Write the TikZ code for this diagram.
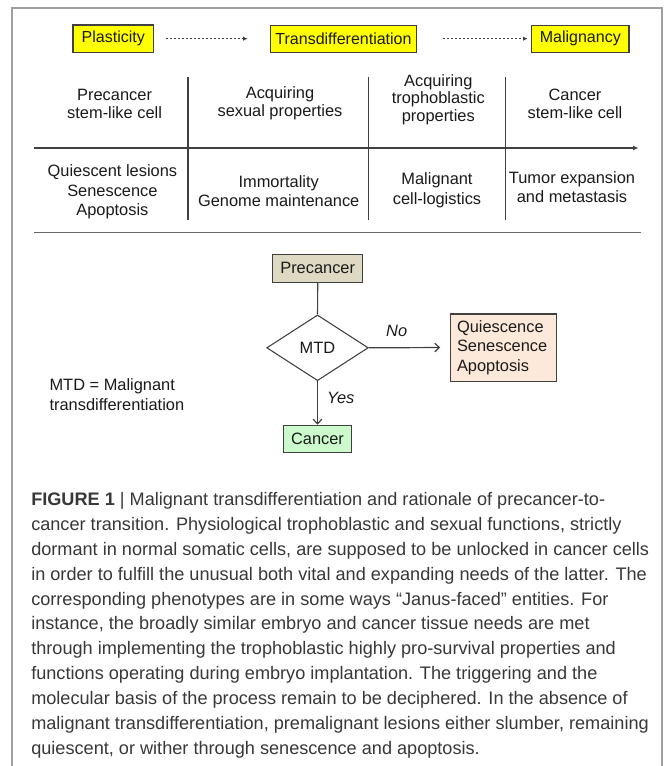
\documentclass[tikz,border=0pt]{standalone}
\usepackage{fontspec}
\setmainfont{Liberation Sans}
\usetikzlibrary{arrows.meta,shapes.geometric}
\definecolor{framegray}{HTML}{A0A0A0}
\definecolor{ink}{HTML}{1A1A1A}
\definecolor{edgegray}{HTML}{404040}
\definecolor{yfill}{HTML}{FFFF00}
\definecolor{tanfill}{HTML}{DDD9C3}
\definecolor{peachfill}{HTML}{FDE9D9}
\definecolor{mintfill}{HTML}{CCFACC}
\definecolor{captxt}{HTML}{383838}
\begin{document}
\begin{tikzpicture}[x=0.75pt,y=-0.75pt,
  lbl/.style={font=\fontsize{12.3pt}{13.3pt}\selectfont, text=ink, inner sep=0pt, align=center},
  lbllow/.style={lbl, font=\fontsize{12.3pt}{14.4pt}\selectfont},
  yellowbox/.style={draw=edgegray, line width=0.8pt, fill=yfill, inner sep=0pt, text=ink, font=\fontsize{12pt}{14pt}\selectfont},
  flowbox/.style={draw=edgegray, line width=0.8pt, inner sep=0pt, text=ink, font=\fontsize{12.3pt}{14pt}\selectfont},
  dotarrow/.style={draw=edgegray, line width=0.8pt, dash pattern=on 1.2pt off 1.8pt, -{Latex[length=3.5pt,width=3.2pt]}},
  axisarrow/.style={draw=edgegray, line width=0.9pt, -{Latex[length=4pt,width=3.6pt]}},
  divider/.style={draw=edgegray, line width=0.8pt},
  flowline/.style={draw=edgegray, line width=0.9pt},
  flowarrow/.style={flowline, -{Straight Barb[length=3.5pt,width=6.5pt]}},
  edgelabel/.style={font=\fontsize{12.3pt}{14pt}\selectfont\itshape, text=ink, inner sep=0pt},
  capline/.style={anchor=base west, inner sep=0pt, text=captxt, font=\fontsize{13.6pt}{18pt}\selectfont}
]
\useasboundingbox (0,0) rectangle (665,766);
\fill[white] (0,0) rectangle (665,766);
\draw[framegray, line width=1.5pt] (12,766) -- (12,8.5) -- (662,8.5) -- (662,766);

% top stage boxes
\node[yellowbox, minimum width=60.5pt, minimum height=20.5pt] (plast) at (113.3,38.7) {Plasticity};
\node[yellowbox, minimum width=109.7pt, minimum height=20.3pt] (trans) at (343.5,38.7) {Transdifferentiation};
\node[yellowbox, minimum width=73pt, minimum height=20.3pt] (malig) at (580.3,38.7) {Malignancy};
\draw[dotarrow, shorten <=9pt, shorten >=16.5pt] (plast) -- (trans);
\draw[dotarrow, shorten <=19.5pt, shorten >=2.5pt] (trans) -- (malig);

% table
\node[lbl] (t1) at (114.6,104) {Precancer\\stem-like cell};
\node[lbl] (t2) at (280,103) {Acquiring\\sexual properties};
\node[lbl] (t3) at (438.3,99.5) {Acquiring\\trophoblastic\\properties};
\node[lbl] (t4) at (575,104) {Cancer\\stem-like cell};
\node[lbllow] (b1) at (112.4,191.8) {Quiescent lesions\\Senescence\\Apoptosis};
\node[lbllow] (b2) at (278.7,191) {Immortality\\Genome maintenance};
\node[lbllow] (b3) at (437,190.3) {Malignant\\cell-logistics};
\node[lbllow] (b4) at (572,187) {Tumor expansion\\and metastasis};

\coordinate (axs) at (34,148);
\coordinate (axe) at (638.5,148);
\draw[axisarrow] (axs) -- (axe);
\coordinate (d1t) at (188,77);   \coordinate (d1b) at (188,220);
\coordinate (d2t) at (368.3,77); \coordinate (d2b) at (368.3,220);
\coordinate (d3t) at (505.7,77); \coordinate (d3b) at (505.7,220);
\draw[divider] (d1t) -- (d1b);
\draw[divider] (d2t) -- (d2b);
\draw[divider] (d3t) -- (d3b);

\coordinate (sepl) at (34,232.7);
\coordinate (sepr) at (640.5,232.7);
\draw[draw=edgegray!80, line width=1.1pt] (sepl) -- (sepr);

% flow chart
\node[flowbox, fill=tanfill, minimum width=67.5pt, minimum height=20.8pt] (pre) at (317.7,268.2) {Precancer};
\node[flowbox, diamond, minimum width=76.2pt, minimum height=49.3pt] (mtd) at (317.5,347.8) {MTD};
\node[flowbox, fill=peachfill, text width=70pt, inner xsep=4.7pt, minimum height=50.3pt, align=left,
      font=\fontsize{12.3pt}{14.8pt}\selectfont] (qui) at (503.7,347.5) {Quiescence\\Senescence\\Apoptosis};
\node[flowbox, fill=mintfill, minimum width=51.3pt, minimum height=20.3pt] (can) at (317.5,438.8) {Cancer};
\draw[flowline] (pre) -- (mtd);
\draw[flowarrow, shorten >=7.5pt] (mtd.east) -- (qui.west);
\draw[flowarrow] (mtd.south) -- (can.north);
\node[edgelabel] (nolab) at (396.7,331) {No};
\node[edgelabel] (yeslab) at (340.7,397.7) {Yes};
\node[lbl, align=left, anchor=west, font=\fontsize{12.3pt}{14.5pt}\selectfont] (def) at (49.3,394.7) {MTD = Malignant\\transdifferentiation};

% caption
\node[capline] (cap1) at (31,505.4) {\textbf{FIGURE 1} | Malignant transdifferentiation and rationale of precancer-to-};
\node[capline] (cap2) at (31,530.3) {cancer transition. Physiological trophoblastic and sexual functions, strictly};
\node[capline] (cap3) at (31,555.2) {dormant in normal somatic cells, are supposed to be unlocked in cancer cells};
\node[capline] (cap4) at (31,580.1) {in order to fulfill the unusual both vital and expanding needs of the latter. The};
\node[capline] (cap5) at (31,605.0) {corresponding phenotypes are in some ways “Janus-faced” entities. For};
\node[capline] (cap6) at (31,629.9) {instance, the broadly similar embryo and cancer tissue needs are met};
\node[capline] (cap7) at (31,654.8) {through implementing the trophoblastic highly pro-survival properties and};
\node[capline] (cap8) at (31,679.7) {functions operating during embryo implantation. The triggering and the};
\node[capline] (cap9) at (31,704.6) {molecular basis of the process remain to be deciphered. In the absence of};
\node[capline] (cap10) at (31,729.5) {malignant transdifferentiation, premalignant lesions either slumber, remaining};
\node[capline] (cap11) at (31,754.4) {quiescent, or wither through senescence and apoptosis.};
\end{tikzpicture}
\end{document}
